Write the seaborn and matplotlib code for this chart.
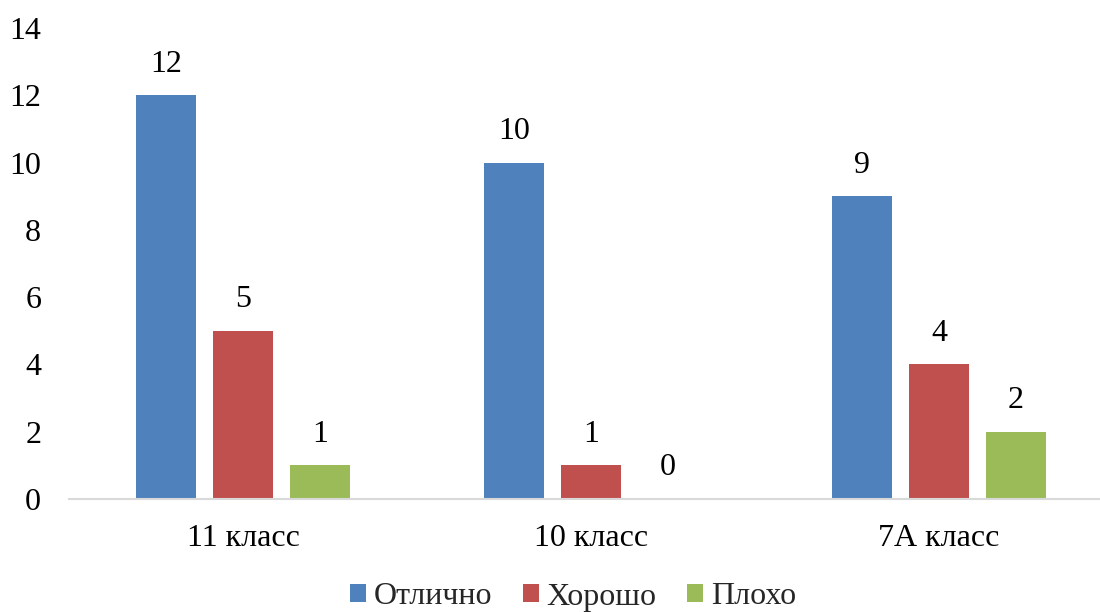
import matplotlib
matplotlib.use("Agg")
import matplotlib.pyplot as plt
import seaborn as sns
import pandas as pd
from matplotlib.patches import Rectangle

categories = ["11 класс", "10 класс", "7А класс"]
series_names = ["Отлично", "Хорошо", "Плохо"]
otlichno = [12, 10, 9]
horosho = [5, 1, 4]
ploho = [1, 0, 2]
colors = ["#4F81BD", "#C0504D", "#9BBB59"]
y_ticks = [0, 2, 4, 6, 8, 10, 12, 14]

rows = []
for name, vals in zip(series_names, [otlichno, horosho, ploho]):
    for c, v in zip(categories, vals):
        rows.append({"cat": c, "series": name, "value": v})
df = pd.DataFrame(rows)

sns.set_theme(style="white")
plt.rcParams["font.family"] = ["Liberation Serif", "DejaVu Serif"]

fig = plt.figure(figsize=(11, 6.12), dpi=100)
ax = fig.add_axes([69 / 1100, 113 / 612, 1044 / 1100, 471 / 612])

sns.barplot(data=df, x="cat", y="value", hue="series", order=categories,
            hue_order=series_names, palette=colors, width=0.664, gap=0.22,
            saturation=1, ax=ax, legend=False, errorbar=None, linewidth=0,
            edgecolor="none")

for cont in ax.containers:
    ax.bar_label(cont, padding=12, fontsize=23, color="black")

ax.set_ylim(0, 14)
ax.set_xlim(-0.5, 2.5)
ax.set_yticks(y_ticks)
ax.set_xlabel("")
ax.set_ylabel("")
ax.tick_params(axis="both", length=0, labelsize=23, colors="black")
ax.tick_params(axis="y", pad=20)
ax.tick_params(axis="x", pad=18)
for s in ["top", "right", "left"]:
    ax.spines[s].set_visible(False)
ax.spines["bottom"].set_color("#D9D9D9")
ax.spines["bottom"].set_linewidth(1.5)
ax.grid(False)

handles = [Rectangle((0, 0), 1, 1, facecolor=c, edgecolor="none") for c in colors]
fig.legend(handles, series_names, loc="center", bbox_to_anchor=(573 / 1100, 15 / 612),
           ncol=3, frameon=False, fontsize=23, handlelength=0.5, handleheight=0.5,
           handletextpad=0.25, columnspacing=0.95, borderpad=0.1)

fig.savefig("out.png", dpi=100)
